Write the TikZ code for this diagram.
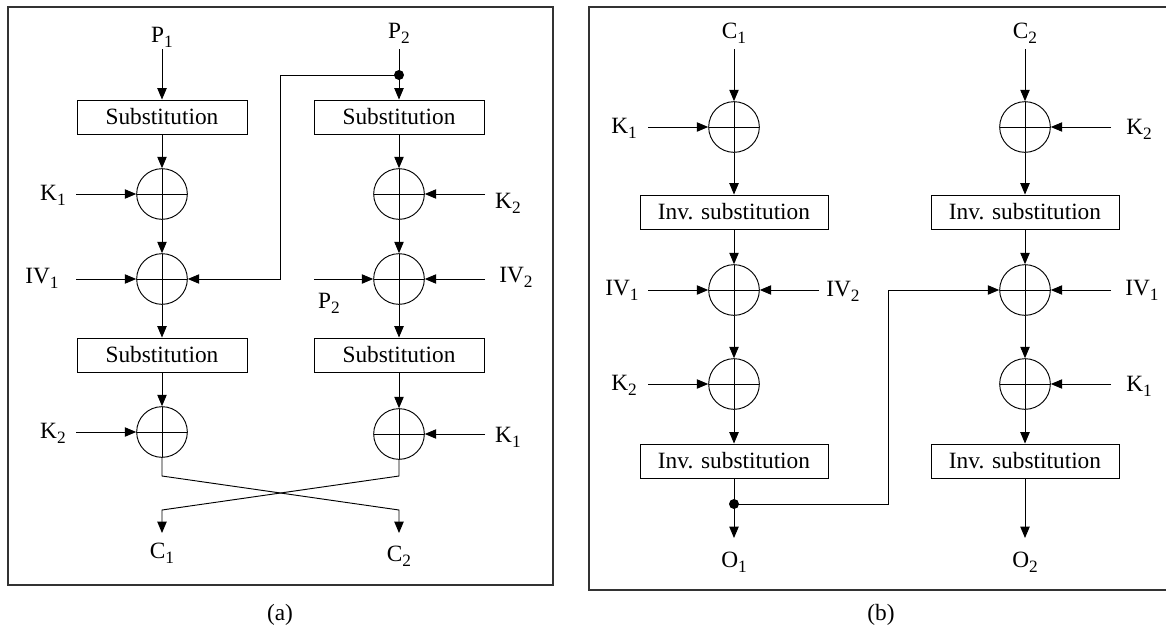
\documentclass[tikz,border=0pt]{standalone}
\usepackage{fontspec}
\setmainfont{Liberation Serif}
\usetikzlibrary{arrows.meta}
\newcommand{\subix}[1]{\raisebox{-0.45ex}{\fontsize{13}{14}\selectfont #1}}

\begin{document}
\begin{tikzpicture}[x=0.75pt,y=-0.75pt,
  every node/.style={font=\fontsize{17.5}{20}\selectfont},
  sbox/.style={draw,line width=0.7pt,minimum width=127.5pt,minimum height=25.5pt,inner sep=0pt},
  ibox/.style={sbox,minimum width=141pt},
  xorop/.style={circle,draw,line width=0.7pt,minimum size=38pt,inner sep=0pt,
    path picture={\draw[line width=0.7pt] (path picture bounding box.north) -- (path picture bounding box.south)
      (path picture bounding box.west) -- (path picture bounding box.east);}},
  lbl/.style={inner sep=0pt},
  arr/.style={-{Triangle[length=8.5pt,width=7pt]},line width=0.7pt},
  dot/.style={circle,fill,inner sep=0pt,minimum size=7.5pt},
  frame/.style={draw=black!80,line width=1pt}
]
\useasboundingbox (0,0) rectangle (1166,628);
\clip (0,0) rectangle (1166,628);

% (a) encryption
\draw[frame] (8,7) rectangle (553,585);
\node[lbl] (capa) at (280,615) {(a)};

\node[lbl] (p1) at (162,37) {P\subix{1}};
\coordinate (p1s) at (162,49);
\node[sbox] (sa1) at (162,117) {Substitution};
\node[xorop] (xa1) at (162,194) {};
\node[xorop] (xa2) at (162,279) {};
\node[sbox] (sa2) at (162,355) {Substitution};
\node[xorop] (xa3) at (162,432) {};

\node[lbl] (p2) at (399,33) {P\subix{2}};
\coordinate (p2s) at (399,49);
\node[sbox] (sb1) at (399,117) {Substitution};
\node[xorop] (xb1) at (399,194) {};
\node[xorop] (xb2) at (399,279) {};
\node[sbox] (sb2) at (399,355) {Substitution};
\node[xorop] (xb3) at (399,434) {};

\node[lbl] (ka1) at (53,195) {K\subix{1}};
\coordinate (ka1s) at (76,194);
\node[lbl] (iva1) at (42,278) {IV\subix{1}};
\coordinate (iva1s) at (76,279);
\node[lbl] (ka2) at (53,433) {K\subix{2}};
\coordinate (ka2s) at (76,432);
\node[lbl] (kb2) at (508,203) {K\subix{2}};
\coordinate (kb2s) at (485,194);
\node[lbl] (ivb2) at (516,277) {IV\subix{2}};
\coordinate (ivb2s) at (485,279);
\node[lbl] (pb2) at (329,303) {P\subix{2}};
\coordinate (pb2s) at (314,279);
\node[lbl] (kb1) at (508,437) {K\subix{1}};
\coordinate (kb1s) at (485,434);

% crossing outputs
\coordinate (xa) at (162,476);
\coordinate (xb) at (399,476);
\coordinate (ya) at (162,510);
\coordinate (yb) at (399,510);
\coordinate (ea) at (162,533);
\coordinate (eb) at (399,533);
\node[lbl] (c1) at (162,553) {C\subix{1}};
\node[lbl] (c2) at (399,556) {C\subix{2}};

\draw[arr] (p1s) -- (sa1.north);
\draw[arr] (sa1) -- (xa1.north);
\draw[arr] (xa1.south) -- (xa2.north);
\draw[arr] (xa2.south) -- (sa2.north);
\draw[arr] (sa2) -- (xa3.north);
\draw[arr] (p2s) -- (sb1.north);
\node[dot] (da) at (399,75) {};
\draw[arr] (sb1) -- (xb1.north);
\draw[arr] (xb1.south) -- (xb2.north);
\draw[arr] (xb2.south) -- (sb2.north);
\draw[arr] (sb2) -- (xb3.north);

\draw[arr] (ka1s) -- (xa1.west);
\draw[arr] (iva1s) -- (xa2.west);
\draw[arr] (ka2s) -- (xa3.west);
\draw[arr] (kb2s) -- (xb1.east);
\draw[arr] (ivb2s) -- (xb2.east);
\draw[arr] (pb2s) -- (xb2.west);
\draw[arr] (kb1s) -- (xb3.east);
\coordinate (fa) at (280,75);
\draw[arr] (da.center) -- (fa) |- (xa2.east);

\draw[arr] (xa3.south) -- (xa) -- (yb) -- (eb);
\draw[arr] (xb3.south) -- (xb) -- (ya) -- (ea);

% (b) decryption
\draw[frame] (589,7) rectangle (1180,590);
\node[lbl] (capb) at (881,615) {(b)};

\node[lbl] (c1b) at (734,33) {C\subix{1}};
\coordinate (c1s) at (734,49);
\node[xorop] (xc1) at (734,127) {};
\node[ibox] (ic1) at (734,212) {Inv. substitution};
\node[xorop] (xc2) at (734,290) {};
\node[xorop] (xc3) at (734,384) {};
\node[ibox] (ic2) at (734,461) {Inv. substitution};
\node[dot] (db) at (734,504) {};
\coordinate (o1s) at (734,538);
\node[lbl] (o1) at (734,562) {O\subix{1}};

\node[lbl] (c2b) at (1025,33) {C\subix{2}};
\coordinate (c2s) at (1025,49);
\node[xorop] (xd1) at (1025,127) {};
\node[ibox] (id1) at (1025,212) {Inv. substitution};
\node[xorop] (xd2) at (1025,290) {};
\node[xorop] (xd3) at (1025,384) {};
\node[ibox] (id2) at (1025,461) {Inv. substitution};
\coordinate (o2s) at (1025,538);
\node[lbl] (o2) at (1025,562) {O\subix{2}};

\node[lbl] (kc1) at (624,128) {K\subix{1}};
\coordinate (kc1s) at (648,127);
\node[lbl] (ivc1) at (622,290) {IV\subix{1}};
\coordinate (ivc1s) at (648,290);
\node[lbl] (ivc2) at (843,291) {IV\subix{2}};
\coordinate (ivc2s) at (819,290);
\node[lbl] (kc2) at (624,385) {K\subix{2}};
\coordinate (kc2s) at (648,384);
\node[lbl] (kd2) at (1139,129) {K\subix{2}};
\coordinate (kd2s) at (1111,127);
\node[lbl] (ivd1) at (1142,290) {IV\subix{1}};
\coordinate (ivd1s) at (1111,290);
\node[lbl] (kd1) at (1139,386) {K\subix{1}};
\coordinate (kd1s) at (1111,384);

\draw[arr] (c1s) -- (xc1.north);
\draw[arr] (xc1.south) -- (ic1.north);
\draw[arr] (ic1) -- (xc2.north);
\draw[arr] (xc2.south) -- (xc3.north);
\draw[arr] (xc3.south) -- (ic2.north);
\draw[arr] (ic2) -- (o1s);
\draw[arr] (c2s) -- (xd1.north);
\draw[arr] (xd1.south) -- (id1.north);
\draw[arr] (id1) -- (xd2.north);
\draw[arr] (xd2.south) -- (xd3.north);
\draw[arr] (xd3.south) -- (id2.north);
\draw[arr] (id2) -- (o2s);

\draw[arr] (kc1s) -- (xc1.west);
\draw[arr] (ivc1s) -- (xc2.west);
\draw[arr] (ivc2s) -- (xc2.east);
\draw[arr] (kc2s) -- (xc3.west);
\draw[arr] (kd2s) -- (xd1.east);
\draw[arr] (ivd1s) -- (xd2.east);
\draw[arr] (kd1s) -- (xd3.east);
\coordinate (fb) at (888,504);
\draw[arr] (db.center) -- (fb) |- (xd2.west);
\end{tikzpicture}
\end{document}
